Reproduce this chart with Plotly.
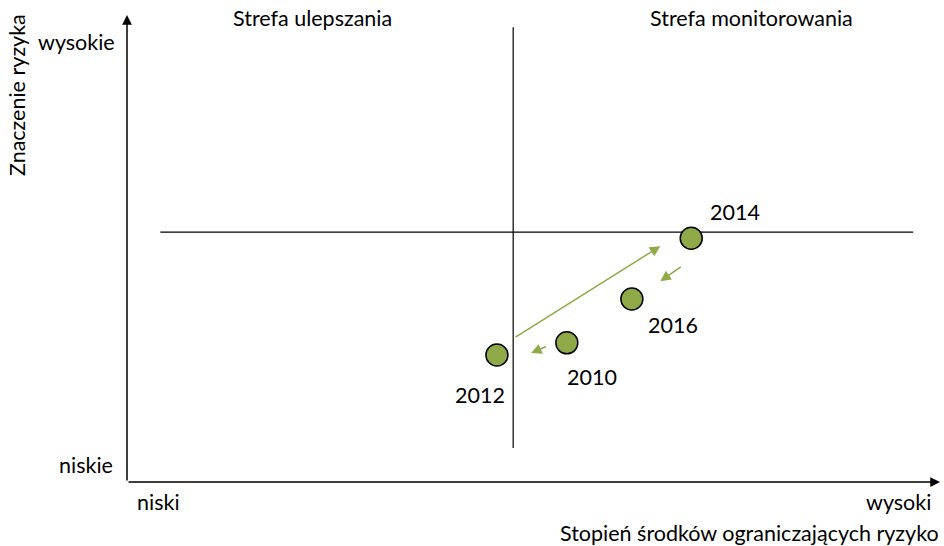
import plotly.graph_objects as go

# Data (abstract 0-100 scale on both axes)
years = ["2010", "2012", "2014", "2016"]
x_vals = [54.1, 45.5, 69.4, 62.1]   # Stopień środków ograniczających ryzyko
y_vals = [29.8, 27.2, 52.2, 39.2]   # Znaczenie ryzyka

# quadrant dividers
x_div = 47.5
y_div = 53.5

# transition arrows (from, to)
arrows = [
    ((47.6, 30.8), (65.6, 50.5)),
    ((68.3, 46.3), (65.6, 43.0)),
    ((51.7, 29.1), (49.7, 27.6)),
]

# label pixel offsets from each point
label_shift = {"2010": (25, -34), "2012": (-17, -40), "2014": (44, 26), "2016": (41, -26)}

GREEN = "#8fa948"
FONT = "Lato, 'Open Sans', sans-serif"
FS = 21.5

fig = go.Figure()

# quadrant lines
fig.add_trace(go.Scatter(x=[x_div, x_div], y=[7.3, 97.4], mode="lines",
                         line=dict(color="black", width=1.2), hoverinfo="skip", showlegend=False))
fig.add_trace(go.Scatter(x=[4.1, 96.7], y=[y_div, y_div], mode="lines",
                         line=dict(color="black", width=1.2), hoverinfo="skip", showlegend=False))

# points
fig.add_trace(go.Scatter(x=x_vals, y=y_vals, mode="markers",
                         marker=dict(size=22, color=GREEN, line=dict(color="black", width=1.5)),
                         showlegend=False, cliponaxis=False))

ann = []
# axes with arrows
ann.append(dict(x=0, y=100, ax=0, ay=0, xref="x", yref="y", axref="x", ayref="y",
                showarrow=True, arrowhead=2, arrowsize=1.3, arrowwidth=1.5, arrowcolor="black", text=""))
ann.append(dict(x=100, y=0, ax=0, ay=0, xref="x", yref="y", axref="x", ayref="y",
                showarrow=True, arrowhead=2, arrowsize=1.3, arrowwidth=1.5, arrowcolor="black", text=""))

for (x0, y0), (x1, y1) in arrows:
    ann.append(dict(x=x1, y=y1, ax=x0, ay=y0, xref="x", yref="y", axref="x", ayref="y",
                    showarrow=True, arrowhead=2, arrowsize=1.4, arrowwidth=1.5, arrowcolor=GREEN, text=""))

for yr, xv, yv in zip(years, x_vals, y_vals):
    dx, dy = label_shift[yr]
    ann.append(dict(x=xv, y=yv, xref="x", yref="y", text=yr, showarrow=False,
                    xshift=dx, yshift=dy, font=dict(size=FS, color="black", family=FONT)))

def ptext(px, py, text, angle=0, xanchor="center"):
    return dict(x=(px - 127) / 813, y=(482 - py) / 467, xref="paper", yref="paper",
                text=text, showarrow=False, textangle=angle, xanchor=xanchor, yanchor="middle",
                font=dict(size=FS, color="black", family=FONT))

ann += [
    ptext(312, 18, "Strefa ulepszania"),
    ptext(751, 18, "Strefa monitorowania"),
    ptext(117, 42, "wysokie", xanchor="right"),
    ptext(115, 465, "niskie", xanchor="right"),
    ptext(158, 502, "niski"),
    ptext(898, 502, "wysoki"),
    ptext(749, 533, "Stopień środków ograniczających ryzyko"),
    ptext(17, 95, "Znaczenie ryzyka", angle=-90),
]

fig.update_layout(
    width=944, height=546,
    margin=dict(l=127, r=4, t=15, b=64),
    paper_bgcolor="white", plot_bgcolor="white",
    xaxis=dict(range=[0, 100], showgrid=False, zeroline=False, showticklabels=False, showline=False, fixedrange=True),
    yaxis=dict(range=[0, 100], showgrid=False, zeroline=False, showticklabels=False, showline=False, fixedrange=True),
    annotations=ann,
    font=dict(family=FONT),
)

fig.write_html("out.html", config={"displayModeBar": False},
               post_script="document.body.style.margin='0';document.body.style.overflow='hidden';")
